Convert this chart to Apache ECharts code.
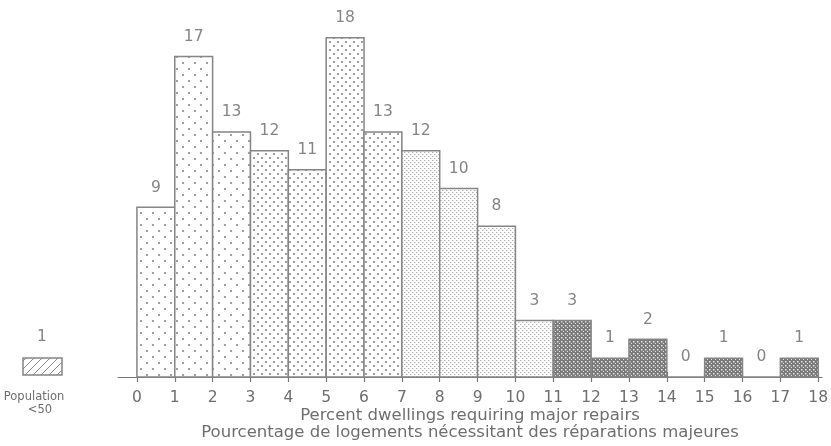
<!DOCTYPE html>
<html><head><meta charset="utf-8">
<script src="https://cdn.jsdelivr.net/npm/echarts@6/dist/echarts.min.js"></script>
<style>html,body{margin:0;padding:0;background:#fff}#c{width:831px;height:446px}</style>
</head><body><div id="c"></div>
<script>
// Data
const binStarts = [0,1,2,3,4,5,6,7,8,9,10,11,12,13,14,15,16,17];
const counts    = [9,17,13,12,11,18,13,12,10,8,3,3,1,2,0,1,0,1];
const shadeClass = ['A','A','A','B','B','B','B','C','C','C','C','D','D','D','D','D','D','D'];
const tickLabels = [0,1,2,3,4,5,6,7,8,9,10,11,12,13,14,15,16,17,18];
const legendCount = 1;
const legendLabel = ['Population', '<50'];
const axisTitle = ['Percent dwellings requiring major repairs', 'Pourcentage de logements nécessitant des réparations majeures'];

const FONT = '"DejaVu Sans", sans-serif';
const TXT = '#6e6e6e';

function tile(w, h, draw) {
  const c = document.createElement('canvas'); c.width = w; c.height = h;
  const g = c.getContext('2d'); draw(g);
  return {image: c, repeat: 'repeat'};
}
const patterns = {
  A: tile(12, 12, g => { g.fillStyle = '#fff'; g.fillRect(0,0,12,12); g.fillStyle = '#a0a0a0'; g.fillRect(2,2,2,2); g.fillRect(8,8,2,2); }),
  B: tile(8, 8, g => { g.fillStyle = '#fff'; g.fillRect(0,0,8,8); g.fillStyle = '#a0a0a0'; g.fillRect(1,1,2,2); g.fillRect(5,5,2,2); }),
  C: tile(4, 4, g => { g.fillStyle = '#fff'; g.fillRect(0,0,4,4); g.fillStyle = '#b0b0b0'; g.fillRect(0,0,1,1); g.fillRect(2,2,1,1); g.fillStyle = '#dcdcdc'; g.fillRect(1,0,1,1); g.fillRect(3,2,1,1); }),
  D: tile(4, 4, g => { g.fillStyle = '#7a7a7a'; g.fillRect(0,0,4,4); g.fillStyle = '#e6e6e6'; g.fillRect(1,1,1.5,1.5); g.fillRect(3,3,1.5,1.5); })
};
const hatch = tile(8, 8, g => { g.fillStyle = '#fff'; g.fillRect(0,0,8,8); g.strokeStyle = '#8a8a8a'; g.lineWidth = 1; g.beginPath(); g.moveTo(0,8); g.lineTo(8,0); g.stroke(); });

const chart = echarts.init(document.getElementById('c'), null, {renderer: 'canvas'});
const axisCommon = {
  type: 'value', min: -0.5, max: 18.1, splitLine: {show: false}, position: 'bottom', offset: 0
};
chart.setOption({
  animation: false,
  grid: {left: 118, right: 9, top: 0, bottom: 69, outerBoundsMode: 'none', containLabel: false},
  xAxis: [
    Object.assign({}, axisCommon, {
      axisLine: {show: true, lineStyle: {color: '#777', width: 1.2}},
      axisTick: {show: true, length: 5, customValues: tickLabels, lineStyle: {color: '#777', width: 1.2}},
      axisLabel: {show: true, customValues: tickLabels, color: TXT, fontFamily: FONT, fontSize: 15.5, margin: 13},
      name: axisTitle.join('\n'), nameLocation: 'middle', nameGap: 30, nameMoveOverlap: false,
      nameTextStyle: {color: TXT, fontFamily: FONT, fontSize: 16.5, lineHeight: 17}
    }),
    Object.assign({}, axisCommon, {
      axisLine: {show: false},
      axisTick: {show: true, inside: true, length: 5, customValues: tickLabels, lineStyle: {color: '#777', width: 1.2}},
      axisLabel: {show: false}
    })
  ],
  yAxis: {type: 'value', min: 0, max: 20, show: false},
  series: [{
    type: 'custom',
    data: binStarts.map((b, i) => [b, counts[i], i]),
    encode: {x: 0, y: 1},
    renderItem: function (params, api) {
      const b = api.value(0), v = api.value(1), idx = api.value(2);
      const p0 = api.coord([b, 0]);
      const p1 = api.coord([b + 1, v]);
      return {
        type: 'rect',
        shape: {x: p0[0], y: p1[1], width: p1[0] - p0[0], height: p0[1] - p1[1]},
        style: {fill: patterns[shadeClass[idx]], stroke: '#858585', lineWidth: 1.5},
        textContent: {style: {text: String(v), fill: '#858585', font: '15.5px ' + FONT}},
        textConfig: {position: 'top', distance: 11}
      };
    }
  }],
  graphic: [
    {type: 'rect', shape: {x: 23, y: 358, width: 39, height: 17}, style: {fill: hatch, stroke: '#858585', lineWidth: 1.5}},
    {type: 'text', x: 42, y: 337, style: {text: String(legendCount), fill: '#858585', font: '15.5px ' + FONT, textAlign: 'center', textVerticalAlign: 'middle'}},
    {type: 'text', x: 34, y: 397, style: {text: legendLabel[0], fill: TXT, font: '11.5px ' + FONT, textAlign: 'center', textVerticalAlign: 'middle'}},
    {type: 'text', x: 40, y: 410, style: {text: legendLabel[1], fill: TXT, font: '11.5px ' + FONT, textAlign: 'center', textVerticalAlign: 'middle'}}
  ]
});
</script></body></html>
